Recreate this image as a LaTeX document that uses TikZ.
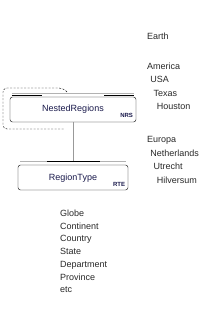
\documentclass[tikz,border=0pt]{standalone}
\usepackage{fontspec}
\setmainfont{Liberation Sans}
\definecolor{entitytext}{RGB}{25,25,75}
\definecolor{listtext}{RGB}{40,40,40}
\begin{document}
\begin{tikzpicture}[
        x=1pt, y=-1pt,
        every node/.style={font=\fontsize{9}{10}\selectfont, text=listtext, inner sep=0pt, text height=7pt, text depth=2pt},
        entity/.style={draw, rounded corners=2.5pt, minimum height=25pt, text=entitytext},
        code/.style={font=\fontsize{6}{7}\selectfont\bfseries, text height=4.5pt, text depth=0pt, text=entitytext},
        item/.style={anchor=west}
    ]
        \useasboundingbox (0, 0) rectangle (211, 320);

        % Glavni entiteti
        \node[entity, minimum width=126pt] (nested_regions) at (73, 109.5) {NestedRegions};
        \node[entity, minimum width=110pt] (region_type) at (73, 177.5) {RegionType};
        \node[code, anchor=south east] (nrs) at ([xshift=-3pt, yshift=4pt]nested_regions.south east) {NRS};
        \node[code, anchor=south east] (rte) at ([xshift=-3pt, yshift=4pt]region_type.south east) {RTE};

        % Zgornji rob (dvojna črta)
        \draw[gray!60] ([xshift=2pt, yshift=3.5pt]nested_regions.north west) -- ([xshift=-2pt, yshift=3.5pt]nested_regions.north east);
        \draw ([xshift=2pt, yshift=1.5pt]nested_regions.north west) -- ([xshift=32pt, yshift=1.5pt]nested_regions.north west);
        \draw ([xshift=-32pt, yshift=1.5pt]nested_regions.north east) -- ([xshift=-2pt, yshift=1.5pt]nested_regions.north east);
        \draw[gray!60] ([xshift=2pt, yshift=3.5pt]region_type.north west) -- ([xshift=-2pt, yshift=3.5pt]region_type.north east);
        \draw ([xshift=29pt, yshift=3.5pt]region_type.north west) -- ([xshift=-28pt, yshift=3.5pt]region_type.north east);

        % Povezava med entitetama
        \draw[gray!80] (nested_regions.south) -- ([yshift=3.5pt]region_type.north);

        % --- REKURZIVNA ZANKA ---
        \coordinate (loop_start) at (67, 92);
        \coordinate (loop_end) at (64, 129);
        \draw[dash pattern=on 2pt off 1.5pt, rounded corners=4pt] (loop_start) -- (63, 88) -- (3, 88) -- (3, 129) -- (loop_end);

        % --- PRIMER HIERARHIJE ---
        \foreach \ime/\zamik/\vrsta in {Earth/0/37, America/0/67, USA/1/80.5, Texas/2/94, Houston/3/107.5, Europa/0/140, Netherlands/1/153.5, Utrecht/2/167, Hilversum/3/180.5} {
            \node[item] (geo_\ime) at ({147 + 3.2*\zamik}, \vrsta) {\ime};
        }

        % Nivoji
        \foreach \ime [count=\i from 0] in {Globe, Continent, Country, State, Department, Province, etc} {
            \node[item] (level_\i) at (60, {214 + 12.7*\i}) {\ime};
        }
    \end{tikzpicture}
\end{document}
